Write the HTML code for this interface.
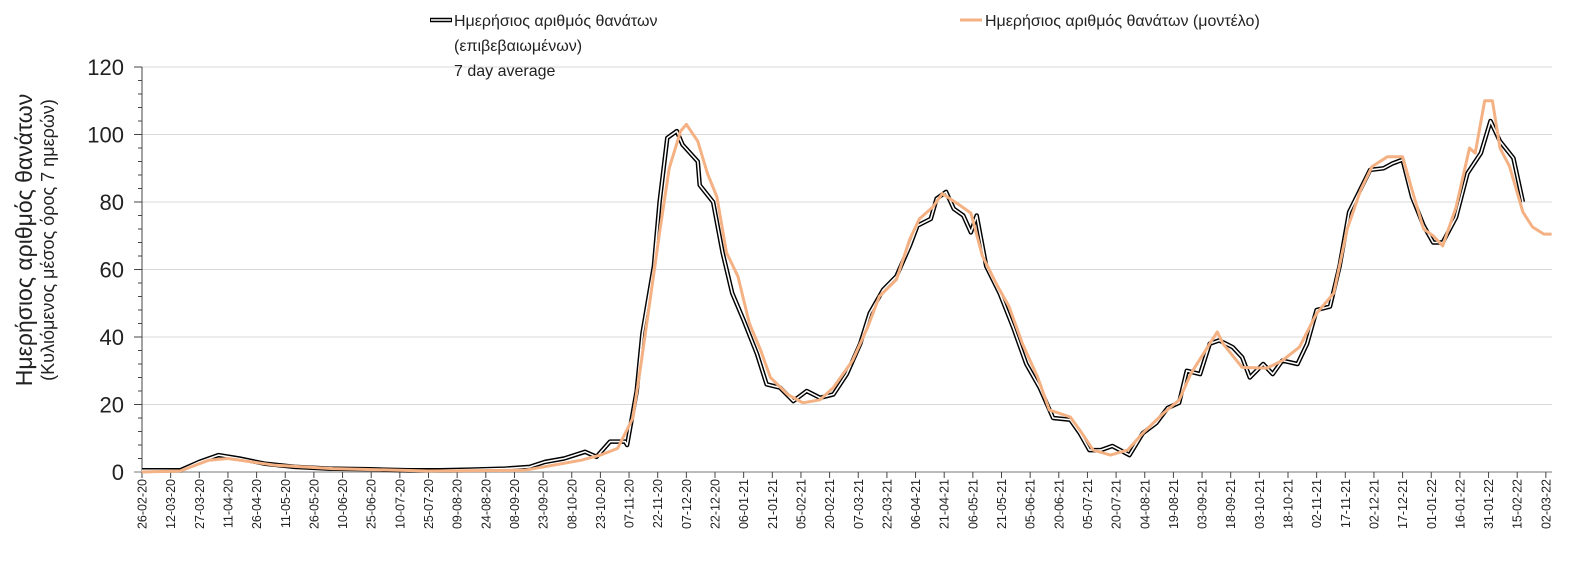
<!DOCTYPE html>
<html><head><meta charset="utf-8"><style>
body{margin:0;background:#fff;}
svg{display:block;font-family:"Liberation Sans",sans-serif;}
</style></head><body>
<svg id="chart" width="1578" height="568" viewBox="0 0 1578 568">
<g id="grid"></g>
<g id="axes"></g>
<g id="series"></g>
<g>
  <g>
    <line x1="430" y1="20" x2="452" y2="20" stroke="#000" stroke-width="4.5"/>
    <line x1="431" y1="20" x2="451" y2="20" stroke="#fff" stroke-width="1.6"/>
    <text x="454" y="26" font-size="16" fill="#222">Ημερήσιος αριθμός θανάτων</text>
    <text x="454" y="51" font-size="16" fill="#222">(επιβεβαιωμένων)</text>
    <text x="454" y="76" font-size="16" fill="#222">7 day average</text>
  </g>
  <g>
    <line x1="960" y1="20" x2="982" y2="20" stroke="#F4B183" stroke-width="3"/>
    <text x="985" y="26" font-size="16" fill="#222">Ημερήσιος αριθμός θανάτων (μοντέλο)</text>
  </g>
</g>
<text transform="translate(32,240) rotate(-90)" text-anchor="middle" font-size="23" fill="#222">Ημερήσιος αριθμός θανάτων</text>
<text transform="translate(54,240) rotate(-90)" text-anchor="middle" font-size="18" fill="#222">(Κυλιόμενος μέσος όρος 7 ημερών)</text>
</svg>
<script>
const yTicks = [0,20,40,60,80,100,120];
const xTickLabels = ["26-02-20","12-03-20","27-03-20","11-04-20","26-04-20","11-05-20","26-05-20","10-06-20","25-06-20","10-07-20","25-07-20","09-08-20","24-08-20","08-09-20","23-09-20","08-10-20","23-10-20","07-11-20","22-11-20","07-12-20","22-12-20","06-01-21","21-01-21","05-02-21","20-02-21","07-03-21","22-03-21","06-04-21","21-04-21","06-05-21","21-05-21","05-06-21","20-06-21","05-07-21","20-07-21","04-08-21","19-08-21","03-09-21","18-09-21","03-10-21","18-10-21","02-11-21","17-11-21","02-12-21","17-12-21","01-01-22","16-01-22","31-01-22","15-02-22","02-03-22"];
const confirmedDays = [0,20,30,40,51,64,80,98,119,140,156,172,190,203,211,221,232,238,245,253,254,259,262,268,271,275,280,283,291,292,299,304,309,315,322,327,334,341,348,355,362,369,376,381,388,395,402,406,413,416,421,425,430,434,437,442,449,456,463,470,477,486,491,496,502,508,517,524,531,537,543,547,554,559,564,571,576,580,587,592,597,605,610,615,622,627,632,639,643,650,655,660,665,671,676,681,688,694,701,706,711,718,723];
const confirmedValues = [0.5,0.5,3,5,4,2.5,1.5,1,0.8,0.5,0.5,0.7,1,1.5,3,4,6,4.5,9,9,8,24,41,61,80,99,101,97,92,85,80,65,53,45,35,26,25,21,24,22,23,29,38,47,54,58,67,73,75,81,83,78,76,71,76,61,53,43,32,25,16,15.5,11.5,6.5,6.5,7.7,5,11.5,14.5,19,20.5,30,29,38,39,37,34,28,32,29,33,32,38,48,49,61,77,85,89.5,90,91.5,92.5,81.5,73,68,68,75.5,88.5,94.5,104,98,93,80];
const modelDays = [0,20,35,45,70,100,150,200,215,230,240,249,257,261,266,271,276,282,285,291,296,301,306,312,318,324,329,338,346,355,362,372,380,386,395,402,407,414,419,427,434,440,448,454,461,469,475,486,491,498,507,516,524,535,543,549,559,563,566,576,589,597,606,615,624,631,638,644,652,660,665,671,676,681,688,695,698,703,707,711,716,723,728,734,738];
const modelValues = [0,0.3,3.5,4,2,1,0.3,0.5,2,3.5,5,7,16,31,51,71,90,101,103,98,88.5,81.5,65,58,44,36,28,23,20.5,21.4,25,33,43,52,57,69,75,78.5,82.5,79.5,76.7,64,55,49,38,28,18.4,16.3,12.4,6.5,5,6.5,11.5,17.5,21.3,29,38,41.5,38,31,30.8,33,37,47,53,72,83.5,90.5,93.4,93.4,83.5,72,70,67,78.5,96,94.5,110,110,96,90.5,77,72.6,70.5,70.5];

const X0=142, PX_PER_DAY=1.91, Y0=472, PX_PER_UNIT=3.375, XR=1552;
const xs = d => X0 + d*PX_PER_DAY;
const ys = v => Y0 - v*PX_PER_UNIT;
const NS="http://www.w3.org/2000/svg";
function mk(tag, attrs, parent){const e=document.createElementNS(NS,tag);for(const k in attrs)e.setAttribute(k,attrs[k]);parent.appendChild(e);return e;}
const grid=document.getElementById('grid'), axes=document.getElementById('axes'), series=document.getElementById('series');

yTicks.forEach(v=>{
  if(v>0){const g=mk('line',{x1:X0,x2:XR,y1:ys(v),y2:ys(v),stroke:'#d9d9d9','stroke-width':1},grid);
  
  }
  const t=mk('line',{x1:X0-8,x2:X0,y1:ys(v),y2:ys(v),stroke:'#444','stroke-width':1},axes);
  
  
  const l=mk('text',{x:X0-18,y:ys(v)+8,'text-anchor':'end','font-size':22,fill:'#222'},axes);
  l.textContent=v;
  
  
});
for(let v=4;v<120;v+=4){ if(v%20===0) continue;
  const m=mk('line',{x1:X0-4,x2:X0,y1:ys(v),y2:ys(v),stroke:'#444','stroke-width':1},axes);
  
  
}
const ya=mk('line',{x1:X0,x2:X0,y1:ys(120),y2:Y0,stroke:'#444','stroke-width':1},axes);


const xa=mk('line',{x1:X0-8,x2:XR,y1:Y0,y2:Y0,stroke:'#bbb','stroke-width':2},axes);


xTickLabels.forEach((lab,i)=>{
  const x=xs(i*15);
  const t=mk('line',{x1:x,x2:x,y1:Y0,y2:Y0+6,stroke:'#444','stroke-width':1},axes);
  
  
  const l=mk('text',{transform:`translate(${x+4.5},${Y0+7}) rotate(-90)`,'text-anchor':'end','font-size':12.5,fill:'#222'},axes);
  l.textContent=lab;
  
  
});

const pts=(ds,vs)=>ds.map((d,i)=>xs(d).toFixed(1)+','+ys(vs[i]).toFixed(1)).join(' ');
const c1=mk('polyline',{points:pts(confirmedDays,confirmedValues),fill:'none',stroke:'#000','stroke-width':4.5,'stroke-linejoin':'round'},series);


const c2=mk('polyline',{points:pts(confirmedDays,confirmedValues),fill:'none',stroke:'#fff','stroke-width':1.6,'stroke-linejoin':'round'},series);


const m=mk('polyline',{points:pts(modelDays,modelValues),fill:'none',stroke:'#F4B183','stroke-width':3,'stroke-linejoin':'round'},series);


</script>
</body></html>
